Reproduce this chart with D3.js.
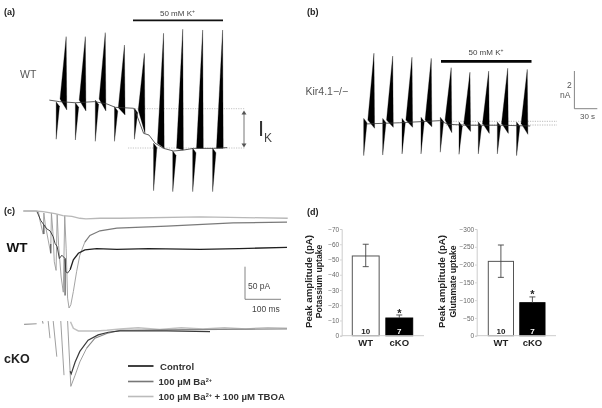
<!DOCTYPE html>
<html>
<head>
<meta charset="utf-8">
<script src="https://cdn.jsdelivr.net/npm/d3@7"></script>
<style>
  html, body { margin: 0; padding: 0; background: #fff; }
  svg { display: block; filter: blur(0.6px); font-family: "Liberation Sans", Arial, sans-serif; }
</style>
</head>
<body>
<script>
// panel (a), times in s, currents in nA
var aPulseTime = [22, 47, 73, 98, 124, 149, 174, 200, 226];
var aUpPeak = [3.44, 3.44, 3.65, 3.0, 2.56, 3.62, 3.83, 3.79, 3.79];
var aUpLeft = [0.16, 0.1, 0.16, -0.3, -0.42, -2.17, -2.44, -2.44, -2.44];
var aUpRight = [-0.42, -0.47, -0.47, -0.68, -1.65, -2.44, -2.53, -2.44, -2.44];
var aSpikeTime = [9, 34, 60, 85, 111, 136, 161, 187, 213];
var aSpikeTop = [0, -0.04, 0.1, -0.25, -0.33, -2.17, -2.58, -2.44, -2.44];
var aSpikeTip = [-1.96, -2, -2.07, -2.07, -1.96, -4.67, -4.72, -4.72, -4.72];
var aBaseT = [0, 13, 34, 59, 75, 86, 110, 114, 123, 130, 138, 149, 162, 175, 188, 214, 232];
var aBaseV = [0.1, 0.02, -0.04, 0.02, -0.1, -0.28, -0.33, -0.68, -1.65, -1.74, -2.17, -2.44, -2.58, -2.53, -2.44, -2.44, -2.4];

// panel (b)
var bPulseTime = [14.3, 38.7, 63.9, 89, 115, 139.5, 163.9, 188.7, 214.2];
var bUpPeak = [3.62, 3.47, 3.41, 3.35, 2.86, 2.62, 2.68, 2.83, 2.77];
var bUpLeft = [0.1, 0.1, 0.1, 0.1, 0.1, -0.07, -0.07, -0.07, -0.07];
var bUpRight = [-0.33, -0.28, -0.28, -0.25, -0.56, -0.5, -0.6, -0.6, -0.65];
var bSpikeTime = [0.9, 25.7, 50.9, 75.6, 100.8, 125.2, 150.4, 175.2, 200.3];
var bSpikeTop = [0.19, 0.19, 0.19, 0.25, 0.25, 0, 0, 0, 0];
var bSpikeTip = [-1.77, -1.74, -1.68, -1.68, -1.59, -1.7, -1.68, -1.68, -1.77];
var bBaseT = [5, 48, 100, 111, 135, 179, 218];
var bBaseV = [-0.1, -0.04, 0.07, -0.12, -0.17, -0.17, -0.21];

// panel (c), WT traces, times in ms, currents in pA
var wtBaT = [1, 38, 43, 47, 56, 58, 62, 70, 77, 79, 83, 87, 92, 95, 99, 106, 112, 116, 120, 124, 128, 133, 140, 149, 158, 172, 186, 214, 261, 400, 584, 734];
var wtBaA = [0, 0, -1, -14, -35, -3, -21, -44, -64, -3, -31, -77, -90, -5, -52, -100, -123, -7, -57, -132, -147, -142, -122, -92, -67, -47, -37, -30, -26, -23, -18, -17];
var wtCtrlT = [38, 43, 49, 58, 66, 75, 84, 89, 95, 101, 108, 117, 119, 124, 131, 140, 154, 172, 205, 261, 350, 492, 600, 734];
var wtCtrlA = [0, -6, -14, -21, -27, -30, -39, -49, -54, -72, -67, -72, -92, -94, -89, -74, -64, -59, -57, -58, -57, -58, -57, -55];
var wtTboaT = [1, 33, 56, 89, 111, 136, 158, 175, 214, 270, 492, 736];
var wtTboaA = [0, 0, -1, -4, -7, -8, -11, -12, -11, -11, -9, -11];
// stimulus artifacts of the control trace: time, top, bottom
var wtArtT = [58, 77, 117];
var wtArtTop = [-21, -50, -72];
var wtArtBottom = [-35, -64, -128];

// panel (c), cKO traces, null breaks the line
var koPreT = [3, 38, 38, 54, 56];
var koPreA = [1, 2, null, 6, 2];
var koBaT = [70, 75, 75, 84, 94, 94, 105, 114, 114, 124, 133, 145, 158, 177, 200, 233, 270, 450, 734];
var koBaA = [6, -20, null, 6, -48, null, 6, -76, null, 6, -93, -76, -56, -35, -20, -13, -8, -7, -6];
var koCtrlT = [131, 134, 145, 158, 181, 209, 237, 270, 300, 400, 520];
var koCtrlA = [-70, -74, -56, -40, -23, -15, -11, -9, -9, -9, -10];
var koTboaT = [132, 140, 154, 177, 205, 233, 270, 320, 380, 440, 500, 560, 620, 680, 734];
var koTboaA = [5, -5, -9, -9, -9, -8, -6, -4, -7, -4, -6, -4, -6, -4, -5];

// panel (d)
var groups = ["WT", "cKO"];
var groupN = ["10", "7"];
var kTicks = [0, -10, -20, -30, -40, -50, -60, -70];
var kMean = [-52.3, -11.6];
var kErrTop = [-60, -13.6];
var kErrLow = [-45.3, -11.6];
var gTicks = [0, -50, -100, -150, -200, -250, -300];
var gMean = [-209, -92.8];
var gErrTop = [-255, -109];
var gErrLow = [-164, -92.8];

var legendItems = ["Control", "100 µM Ba", "100 µM Ba"];

var svg = d3.select("body").append("svg").attr("width", 602).attr("height", 408);

function label(x, y, txt, size, weight, fill) {
  return svg.append("text").attr("x", x).attr("y", y)
    .style("font-size", size + "px").style("font-weight", weight || "normal")
    .style("fill", fill || "#333").text(txt);
}

function rule(x1, y1, x2, y2, col, w) {
  return svg.append("line").attr("x1", x1).attr("y1", y1).attr("x2", x2).attr("y2", y2)
    .attr("stroke", col).attr("stroke-width", w);
}

// ---- panels a and b: ramp pulses ----
function drawPulses(x, y, p) {
  var poly = d3.line().x(function(d) { return x(d[0]); }).y(function(d) { return y(d[1]); });
  var ups = p.time.map(function(t, i) {
    return [[t - 8, p.left[i]], [t, p.peak[i]], [t + 0.8, p.right[i]]];
  });
  var downs = p.spike.map(function(t, i) {
    return [[t, p.top[i]], [t + 4.3, p.top[i] - 0.23], [t, p.tip[i]]];
  });
  svg.append("g").selectAll("path").data(ups.concat(downs)).enter().append("path")
    .attr("d", function(d) { return poly(d) + "Z"; })
    .attr("fill", "#000")
    .attr("stroke", "#000").attr("stroke-width", 0.3);
  svg.append("path").datum(d3.zip(p.baseT, p.baseV))
    .attr("d", poly)
    .attr("fill", "none").attr("stroke", "#333").attr("stroke-width", 0.8);
}

var xA = d3.scaleLinear().domain([0, 232]).range([49.3, 227.2]);
var yA = d3.scaleLinear().domain([0, 1]).range([102, 83]);
var xB = d3.scaleLinear().domain([0, 232]).range([363, 540.9]);
var yB = d3.scaleLinear().domain([0, 1]).range([122, 103]);

// dotted guide lines sit behind the traces
[108.7, 148].forEach(function(v, i) {
  rule(i ? 128 : 135, v, 245, v, "#b5b5b5", 0.8).attr("stroke-dasharray", "1.2 1.2");
});
[121.3, 125].forEach(function(v) {
  rule(446, v, 557, v, "#a8a8a8", 0.8).attr("stroke-dasharray", "1.2 1.2");
});

drawPulses(xA, yA, {time: aPulseTime, peak: aUpPeak, left: aUpLeft, right: aUpRight,
  spike: aSpikeTime, top: aSpikeTop, tip: aSpikeTip, baseT: aBaseT, baseV: aBaseV});
drawPulses(xB, yB, {time: bPulseTime, peak: bUpPeak, left: bUpLeft, right: bUpRight,
  spike: bSpikeTime, top: bSpikeTop, tip: bSpikeTip, baseT: bBaseT, baseV: bBaseV});

label(4, 15, "(a)", 9, "bold", "#222");
label(20, 78, "WT", 10.5, "normal", "#555");
var kA = label(160, 16, "50 mM K", 8, "normal", "#444");
kA.append("tspan").attr("dy", -3).style("font-size", "5px").text("+");
rule(133, 20.3, 223, 20.3, "#111", 1.8);

// I_K double arrow
rule(244, 113, 244, 145, "#777", 1);
svg.append("path").attr("d", "M241.5,114.5L244,110.5L246.5,114.5ZM241.5,143.5L244,147.5L246.5,143.5Z").attr("fill", "#555");
label(258, 136, "I", 22, "normal", "#333");
label(264, 142, "K", 12, "normal", "#444");

label(307, 15, "(b)", 9, "bold", "#222");
label(305.5, 95, "Kir4.1−/−", 10.5, "normal", "#555");
var kB = label(468.5, 55, "50 mM K", 8, "normal", "#444");
kB.append("tspan").attr("dy", -3).style("font-size", "5px").text("+");
rule(441, 61.4, 531.5, 61.4, "#050505", 2.8);

svg.append("path").attr("d", "M574.4,71V108.7H597.3").attr("fill", "none").attr("stroke", "#777").attr("stroke-width", 0.9);
label(567, 88, "2", 8.5, "normal", "#555");
label(560, 98, "nA", 8.5, "normal", "#555");
label(580, 119, "30 s", 8, "normal", "#555");

// ---- panel c: uptake currents ----
var xC = d3.scaleLinear().domain([0, 734]).range([23, 287]);
var yWT = d3.scaleLinear().domain([0, -50]).range([211, 244]);
var yKO = d3.scaleLinear().domain([0, -50]).range([325, 358]);

function trace(y, ts, vs, col, w) {
  var line = d3.line().defined(function(d) { return d[1] !== null; })
    .x(function(d) { return xC(d[0]); }).y(function(d) { return y(d[1]); });
  svg.append("path").datum(d3.zip(ts, vs)).attr("d", line)
    .attr("fill", "none").attr("stroke", col).attr("stroke-width", w);
}

// sawtooth part of the Ba trace is thin and pale, the tail is darker
trace(yWT, wtBaT.slice(0, 26), wtBaA.slice(0, 26), "#9a9a9a", 0.9);
trace(yWT, wtBaT.slice(25), wtBaA.slice(25), "#7a7a7a", 1.2);
wtArtT.forEach(function(t, i) {
  rule(xC(t), yWT(wtArtTop[i]), xC(t), yWT(wtArtBottom[i]), "#666", 1.4);
});
trace(yWT, wtCtrlT.slice(0, 15), wtCtrlA.slice(0, 15), "#303030", 0.9);
trace(yWT, wtCtrlT.slice(14), wtCtrlA.slice(14), "#202020", 1.3);
trace(yWT, wtTboaT, wtTboaA, "#b8b8b8", 1.3);

trace(yKO, koPreT, koPreA, "#999", 1.1);
trace(yKO, koBaT.slice(0, 14), koBaA.slice(0, 14), "#9a9a9a", 0.95);
trace(yKO, koTboaT, koTboaA, "#c0c0c0", 1.5);
trace(yKO, koBaT.slice(13), koBaA.slice(13), "#888", 1.1);
trace(yKO, koCtrlT, koCtrlA, "#3a3a3a", 1.2);

label(4, 214, "(c)", 9, "bold", "#222");
label(6.5, 252, "WT", 13.5, "bold", "#111");
label(4, 363, "cKO", 12.5, "bold", "#222");

svg.append("path").attr("d", "M245,266.7V299.3H281").attr("fill", "none").attr("stroke", "#777").attr("stroke-width", 0.9);
label(248, 289, "50 pA", 8.5, "normal", "#444");
label(252, 312, "100 ms", 8.5, "normal", "#444");

// legend
var legendCols = ["#111", "#777", "#bbb"];
var legendY = [366, 381.5, 396.5];
var legendX = [160, 158.5, 158.5];
legendItems.forEach(function(txt, i) {
  rule(128, legendY[i], 153.5, legendY[i], legendCols[i], 1.6);
  var t = label(legendX[i], legendY[i] + 3.6, txt, 9.6, "bold", "#333");
  if (i > 0) t.append("tspan").attr("dy", -3).style("font-size", "5.5px").text("2+");
  if (i == 2) t.append("tspan").attr("dy", 3).text(" + 100 µM TBOA");
});

// ---- panel d: bar charts ----
function barChart(o) {
  var x = d3.scaleBand().domain(groups).range(o.xr).paddingInner(0.2);
  var y = d3.scaleLinear().domain(o.dom).range([335.7, 229]);
  var g = svg.append("g");

  g.selectAll("rect").data(groups).enter().append("rect")
    .attr("x", function(d) { return x(d); })
    .attr("y", function(d, i) { return y(o.mean[i]); })
    .attr("width", x.bandwidth())
    .attr("height", function(d, i) { return y(0) - y(o.mean[i]); })
    .attr("fill", function(d, i) { return i ? "#000" : "#fff"; })
    .attr("stroke", function(d, i) { return i ? "#000" : "#555"; })
    .attr("stroke-width", 1);

  g.selectAll("path.err").data(groups).enter().append("path").attr("class", "err")
    .attr("d", function(d, i) {
      var c = x(d) + x.bandwidth() / 2;
      return "M" + c + "," + y(o.low[i]) + "V" + y(o.top[i]) + "M" + (c - 3) + "," + y(o.top[i]) + "H" + (c + 3)
        + (i ? "" : "M" + (c - 3) + "," + y(o.low[i]) + "H" + (c + 3));
    })
    .attr("fill", "none").attr("stroke", "#444").attr("stroke-width", 0.9);

  var axisY = g.append("g").attr("transform", "translate(" + o.axisX + ",0)")
    .call(d3.axisLeft(y).tickValues(o.ticks).tickSize(1.5).tickPadding(1));
  axisY.selectAll("text").style("font-size", "6.5px").style("fill", "#666").style("font-family", "inherit");
  axisY.selectAll("line,path").attr("stroke", "#ccc");

  rule(o.axisX, 335.7, o.axisEnd, 335.7, "#ccc", 1);

  groups.forEach(function(d, i) {
    var c = x(d) + x.bandwidth() / 2;
    label(c, 345.5, d, 9.5, "bold", "#222").attr("text-anchor", "middle");
    label(c, 333.5, groupN[i], 8, "bold", i ? "#fff" : "#222").attr("text-anchor", "middle");
  });
  label(x("cKO") + x.bandwidth() / 2, o.star, "*", 11, "bold", "#222").attr("text-anchor", "middle");

  [[o.lab1, "Peak amplitude (pA)", 9.7], [o.lab2, o.name, 8.6]].forEach(function(l) {
    svg.append("text").attr("transform", "translate(" + l[0] + ",281.5) rotate(-90)")
      .attr("text-anchor", "middle").style("font-size", l[2] + "px").style("font-weight", "bold")
      .style("fill", "#222").text(l[1]);
  });
}

label(307, 215, "(d)", 9, "bold", "#222");
barChart({xr: [352.3, 412.7], dom: [0, -70], ticks: kTicks, mean: kMean, top: kErrTop, low: kErrLow,
  axisX: 341.7, axisEnd: 424, star: 317, lab1: 312, lab2: 322, name: "Potassium uptake"});
barChart({xr: [488.3, 545], dom: [0, -300], ticks: gTicks, mean: gMean, top: gErrTop, low: gErrLow,
  axisX: 476.7, axisEnd: 556, star: 298, lab1: 445, lab2: 455.5, name: "Glutamate uptake"});
</script>
</body>
</html>
